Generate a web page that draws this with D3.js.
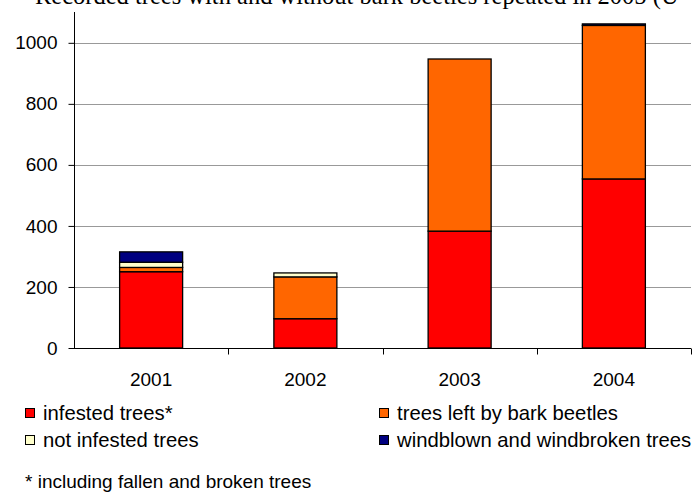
<!DOCTYPE html>
<html><head><meta charset="utf-8">
<script src="https://cdn.jsdelivr.net/npm/d3@7"></script>
<style>body{margin:0;background:#fff}svg{display:block}</style>
</head><body>
<svg id="c" width="699" height="493"></svg>
<script>
const years = ["2001", "2002", "2003", "2004"];
const seriesNames = ["infested trees*", "trees left by bark beetles", "not infested trees", "windblown and windbroken trees"];
const infested = [250, 96, 383, 554];
const leftByBeetles = [14, 137, 564, 503];
const notInfested = [17, 13, 0, 0];
const windblown = [34, 0, 0, 5];
const yTicks = [0, 200, 400, 600, 800, 1000];
const colors = ["#FF0000", "#FF6600", "#FFFFCC", "#000080"];
const titleText = "Recorded trees with and without bark beetles repeated in 2005 (U";
const footnote = "* including fallen and broken trees";

const svg = d3.select("#c");
const font = "'Liberation Sans', Arial, sans-serif";
const L = 74, R = 691, B = 348, T = 12;

const x = d3.scaleBand().domain(years).range([L, R]).paddingInner(0.59).paddingOuter(0.295);
const y = d3.scaleLinear().domain([0, 1101]).range([B, T]);

// title (cropped at top in the reference)
svg.append("text").attr("x", 35).attr("y", 4)
  .attr("font-family", "'Liberation Serif','Times New Roman',serif").attr("font-size", 24.5)
  .attr("fill", "#000").text(titleText);

// gridlines
svg.append("g").selectAll("line").data(yTicks.filter(d => d > 0)).join("line")
  .attr("x1", L).attr("x2", R).attr("y1", d => Math.round(y(d)) + 0.5).attr("y2", d => Math.round(y(d)) + 0.5)
  .attr("stroke", "#999").attr("stroke-width", 1);

// stacked bars
const rows = years.map((yr, i) => ({year: yr, s0: infested[i], s1: leftByBeetles[i], s2: notInfested[i], s3: windblown[i]}));
const stack = d3.stack().keys(["s0", "s1", "s2", "s3"])(rows);
const bw = 63;
svg.append("g").selectAll("g").data(stack).join("g")
  .attr("fill", (d, i) => colors[i])
  .selectAll("rect").data(d => d.filter(v => v[1] - v[0] > 0)).join("rect")
  .attr("x", d => x(d.data.year) + x.bandwidth() / 2 - bw / 2)
  .attr("width", bw)
  .attr("y", d => y(d[1]))
  .attr("height", d => y(d[0]) - y(d[1]))
  .attr("stroke", "#000").attr("stroke-width", 1.3);

// y axis
const yAxis = d3.axisLeft(y).tickValues(yTicks).tickFormat(d3.format("d")).tickSize(6).tickPadding(11);
const gy = svg.append("g").attr("transform", `translate(${L + 0.5},0)`).call(yAxis);
gy.select(".domain").attr("d", `M0,${T}V${B}`).attr("stroke", "#000");
gy.selectAll(".tick line").attr("stroke", "#000");
gy.selectAll(".tick text").attr("font-family", font).attr("font-size", 19).attr("fill", "#000");

// x axis
const gx = svg.append("g").attr("transform", `translate(0,${B + 0.5})`);
gx.append("line").attr("x1", L).attr("x2", R).attr("stroke", "#000");
const bounds = years.map(d => x(d) - x.step() * x.paddingInner() / 2).concat([R]).slice(1);
gx.selectAll("line.tk").data(bounds).join("line").attr("class", "tk")
  .attr("x1", d => Math.round(d) + 0.5).attr("x2", d => Math.round(d) + 0.5).attr("y1", 0).attr("y2", 6).attr("stroke", "#000");
gx.selectAll("text").data(years).join("text")
  .attr("x", d => x(d) + x.bandwidth() / 2).attr("y", 37)
  .attr("text-anchor", "middle").attr("font-family", font).attr("font-size", 19).attr("fill", "#000").text(d => d);

// legend
const legPos = [[25, 413], [379, 413], [25, 440], [379, 440]];
const order = [0, 1, 2, 3];
const lg = svg.append("g").selectAll("g").data(order).join("g")
  .attr("transform", d => `translate(${legPos[d][0]},${legPos[d][1]})`);
lg.append("rect").attr("x", 0.5).attr("y", -4.5).attr("width", 9).attr("height", 9)
  .attr("fill", d => colors[d]).attr("stroke", "#000").attr("stroke-width", 1);
lg.append("text").attr("x", 18).attr("y", 7).attr("font-family", font).attr("font-size", 20.3).attr("fill", "#000")
  .text(d => seriesNames[d]);

svg.append("text").attr("x", 25).attr("y", 488).attr("font-family", font).attr("font-size", 19).attr("fill", "#000").text(footnote);
</script>
</body></html>
